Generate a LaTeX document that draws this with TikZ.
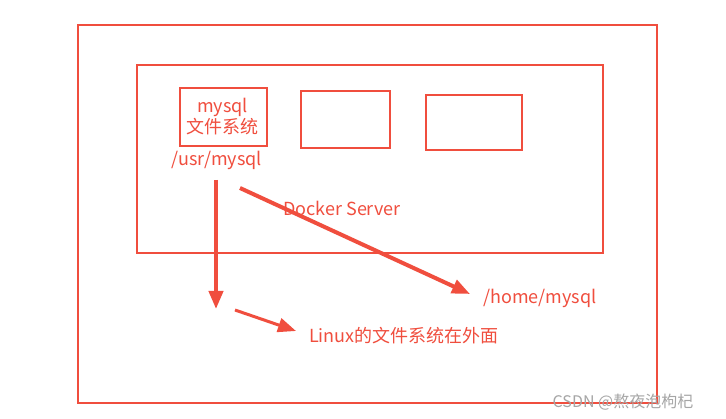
\documentclass[tikz,border=0pt]{standalone}
\usepackage{fontspec}
\setmainfont{Noto Sans CJK SC}
\usetikzlibrary{arrows.meta}
\definecolor{rd}{HTML}{F04E3E}
\begin{document}
\begin{tikzpicture}[x=1pt,y=-1pt,
  box/.style={draw=rd,line width=2pt},
  lbl/.style={text=rd,font=\fontsize{18}{21}\selectfont,inner sep=0pt},
  arr/.style={rd,line width=4pt,-{Triangle[length=18pt,width=14pt]}}]
\useasboundingbox[fill=white] (0,0) rectangle (726,419);
\draw[box] (78,25) rectangle (657,403);
\draw[box] (137,65) rectangle (603,253);
\node[box,minimum width=87pt,minimum height=58pt,anchor=north west,inner sep=0pt] (m) at (179,87) {};
\node[lbl,align=center] (mt) at (222.5,117) {mysql\\文件系统};
\node[box,minimum width=89pt,minimum height=57pt,anchor=north west] (b2) at (300,90) {};
\node[box,minimum width=96pt,minimum height=55pt,anchor=north west] (b3) at (425,94) {};
\node[lbl] (usr) at (217,160) {/usr/mysql};
\node[lbl] (ds) at (342,208) {Docker Server};
\node[lbl] (home) at (540,298) {/home/mysql};
\node[lbl] (lin) at (404,336) {Linux的文件系统在外面};
\node[text=gray!70,font=\fontsize{16}{18}\selectfont,inner sep=0pt] (wm) at (623,402) {CSDN @熬夜泡枸杞};
\coordinate (a1) at (216,180); \coordinate (a2) at (216,309);
\coordinate (c1) at (240,188); \coordinate (c2) at (470,294);
\coordinate (d1) at (235,310); \coordinate (d2) at (296,331);
\draw[arr] (a1) -- (a2);
\draw[arr] (c1) -- (c2);
\draw[arr,line width=3pt] (d1) -- (d2);
\end{tikzpicture}
\end{document}
